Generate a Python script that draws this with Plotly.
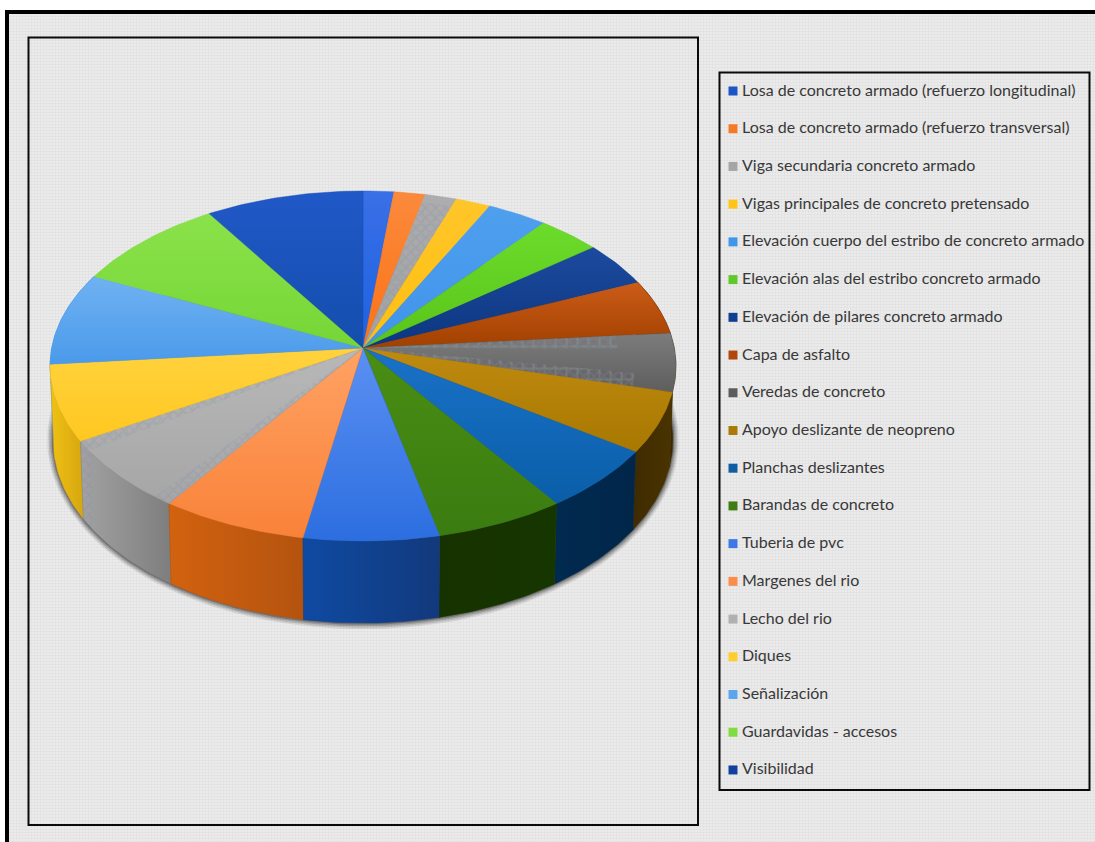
import numpy as np
import plotly.graph_objects as go

# Share of each bridge component, in percent, clockwise from twelve o'clock
categories = [
    "Losa de concreto armado (refuerzo longitudinal)",
    "Losa de concreto armado (refuerzo transversal)",
    "Viga secundaria concreto armado",
    "Vigas principales de concreto pretensado",
    "Elevación cuerpo del estribo de concreto armado",
    "Elevación alas del estribo concreto armado",
    "Elevación de pilares concreto armado",
    "Capa de asfalto",
    "Veredas de concreto",
    "Apoyo deslizante de neopreno",
    "Planchas deslizantes",
    "Barandas de concreto",
    "Tuberia de pvc",
    "Margenes del rio",
    "Lecho del rio",
    "Diques",
    "Señalización",
    "Guardavidas - accesos",
    "Visibilidad",
]
shares = [1.75, 1.78, 1.81, 2.00, 3.44, 3.64, 4.14, 5.06, 5.39, 5.56,
          5.81, 6.08, 6.33, 6.89, 6.81, 7.06, 8.56, 8.89, 9.03]

# Top-face gradient, upper colour then lower colour on the page
top_upper = ["#3a6fe6", "#fb8a3c", "#adadad", "#ffc62a", "#4f9fee", "#6cdc2c", "#1d4a9e",
             "#cc5c18", "#7c7c7c", "#c08a10", "#1a72c8", "#4a8e14", "#5b90f2", "#ffa264",
             "#b8b8b8", "#ffd23e", "#70b2f2", "#8ae24a", "#2158c8"]
top_lower = ["#1b62e2", "#fb7216", "#a2a2a2", "#ffbf10", "#3f94ea", "#58c418", "#0b3680",
             "#a14000", "#5e5e5e", "#a87800", "#0a5ea8", "#3a7c10", "#2c6ee0", "#f98238",
             "#a6a6a6", "#ffc820", "#4a9aea", "#76d636", "#144eac"]
side_colors = {
    7: ("#3a1c00", "#3a1c00"),
    8: ("#3a2800", "#3a2800"),
    9: ("#3e2b00", "#4a3300"),
    10: ("#012a50", "#01264a"),
    11: ("#163200", "#163600"),
    12: ("#0f4aa2", "#12397c"),
    13: ("#d2620f", "#b4530f"),
    14: ("#a2a2a2", "#7e7e7e"),
    15: ("#f0c214", "#d6a610"),
    16: ("#3f8fe0", "#3f8fe0"),
}

legend_swatches = ["#1c55c4", "#f57a28", "#a5a5a5", "#ffc414", "#3f96ea", "#5fc92a", "#0e3f90",
                   "#b0480c", "#5c5c5c", "#a97a06", "#0f5ea4", "#3f7d12", "#3d78e4", "#fb8c4a",
                   "#b0b0b0", "#ffcd2c", "#5aa6ee", "#80dc42", "#123f9c"]

# Speckled compression bands on the grey slices: slice, angular span, radial reach
speckle_bands = [(2, 0.0, 1.0, 0.95), (8, 0.0, 0.27, 0.82), (8, 0.74, 1.0, 0.87),
                 (14, 0.0, 0.13, 1.0), (14, 0.87, 1.0, 1.0)]

# Projection of the disc
CX, CY = 363.0, 348.0
A, B, K = 173.2, 311.3, 0.103
DEPTH, DEPTH_SLOPE, TAPER = 73.0, 9.0, 0.99
INK = "#0a0a0a"


def rim(theta):
    px, py = np.sin(theta), np.cos(theta)
    w = 1 + K * py
    return CX + B * px / w, CY - A * py / w


def base(theta):
    x, y = rim(theta)
    return CX + (x - CX) * TAPER, y + DEPTH - DEPTH_SLOPE * np.cos(theta)


def arc(a, b):
    return np.linspace(a, b, max(6, int(abs(b - a) * 60)))


fig = go.Figure()


def polygon(xs, ys, **kw):
    fig.add_trace(go.Scatter(x=list(xs), y=list(ys), mode="lines", fill="toself",
                             hoverinfo="skip", showlegend=False, **kw))


def speckle(xs, ys):
    polygon(xs, ys, line=dict(width=0),
            fillpattern=dict(shape="x", size=7, solidity=0.4, fgcolor="rgba(150,125,180,0.5)",
                             bgcolor="rgba(0,0,0,0)"))
    polygon(xs, ys, line=dict(width=0),
            fillpattern=dict(shape="+", size=11, solidity=0.35, fgcolor="rgba(135,175,155,0.5)",
                             bgcolor="rgba(0,0,0,0)"))


# Stippled page and panel backdrop
polygon([5, 1095, 1095, 5, 5], [10, 10, 842, 842, 10], line=dict(width=0),
        fillpattern=dict(shape=".", size=3, solidity=0.5, fgcolor="#d2d2d2", bgcolor="#eeeeee"))

edges = np.cumsum([0] + shares) / sum(shares) * 2 * np.pi

# Soft shadow under the disc
ring = np.linspace(0, 2 * np.pi, 240)
bx, by = base(ring)
for grow, alpha in [(6, 0.10), (4.5, 0.14), (3, 0.2), (1.5, 0.3)]:
    polygon(CX + (bx - CX) * (1 + grow / 310), 444 + (by - 444) * (1 + grow / 175),
            line=dict(width=0), fillcolor=f"rgba(30,30,30,{alpha})")

# Side wall, back to front
for i in sorted(side_colors, key=lambda n: abs((edges[n] + edges[n + 1]) / 2 - np.pi), reverse=True):
    t = arc(edges[i], edges[i + 1])
    tx, ty = rim(t)
    ux, uy = base(t[::-1])
    left, right = side_colors[i]
    xs = np.r_[tx, ux, tx[0]]
    ys = np.r_[ty, uy, ty[0]]
    polygon(xs, ys, line=dict(width=0.5, color=right),
            fillgradient=dict(type="horizontal", start=float(xs.min()), stop=float(xs.max()),
                              colorscale=[[0, left], [1, right]]))

# Speckled sliver at the far end of the grey wall
t = arc(edges[14] + 0.82 * (edges[15] - edges[14]), edges[15])
tx, ty = rim(t)
ux, uy = base(t[::-1])
speckle(np.r_[tx, ux, tx[0]], np.r_[ty, uy, ty[0]])

# Top face
for i in range(len(shares)):
    t = arc(edges[i], edges[i + 1])
    rx, ry = rim(t)
    xs = np.r_[CX, rx, CX]
    ys = np.r_[CY, ry, CY]
    polygon(xs, ys, line=dict(width=0.4, color=top_lower[i]),
            fillgradient=dict(type="vertical", start=float(ys.min()), stop=float(ys.max()),
                              colorscale=[[0, top_upper[i]], [1, top_lower[i]]]))

for i, f0, f1, reach in speckle_bands:
    span = edges[i + 1] - edges[i]
    t = arc(edges[i] + f0 * span, edges[i] + f1 * span)
    rx, ry = rim(t)
    speckle(np.r_[CX, CX + (rx - CX) * reach, CX], np.r_[CY, CY + (ry - CY) * reach, CY])

# Legend rows
rows = 91 + np.arange(len(categories)) * 37.72
fig.add_trace(go.Scatter(x=[733] * len(categories), y=rows, mode="markers", hoverinfo="skip",
                         showlegend=False,
                         marker=dict(symbol="square", size=9, color=legend_swatches, line=dict(width=0))))
fig.add_trace(go.Scatter(x=[742] * len(categories), y=rows + 0.5, mode="text", text=categories,
                         textposition="middle right", hoverinfo="skip", showlegend=False,
                         textfont=dict(family="Lato", size=16, color="#383838")))

frame = dict(type="rect", xref="x", yref="y", layer="above")
shapes = [
    dict(frame, x0=28.5, x1=698, y0=37.5, y1=825, line=dict(color=INK, width=2)),
    dict(frame, x0=719.5, x1=1089.5, y0=72.5, y1=790, line=dict(color=INK, width=2)),
    dict(frame, x0=5, x1=9, y0=10, y1=842, fillcolor="#000000", line=dict(width=0)),
    dict(frame, x0=5, x1=1095, y0=10, y1=14, fillcolor="#000000", line=dict(width=0)),
]

fig.update_layout(
    width=1095, height=842, margin=dict(l=0, r=0, t=0, b=0, pad=0),
    paper_bgcolor="#ffffff", plot_bgcolor="rgba(0,0,0,0)", showlegend=False, shapes=shapes,
    xaxis=dict(range=[0, 1095], visible=False, fixedrange=True),
    yaxis=dict(range=[842, 0], visible=False, fixedrange=True),
)
fig.write_html("out.html", config={"displayModeBar": False})
